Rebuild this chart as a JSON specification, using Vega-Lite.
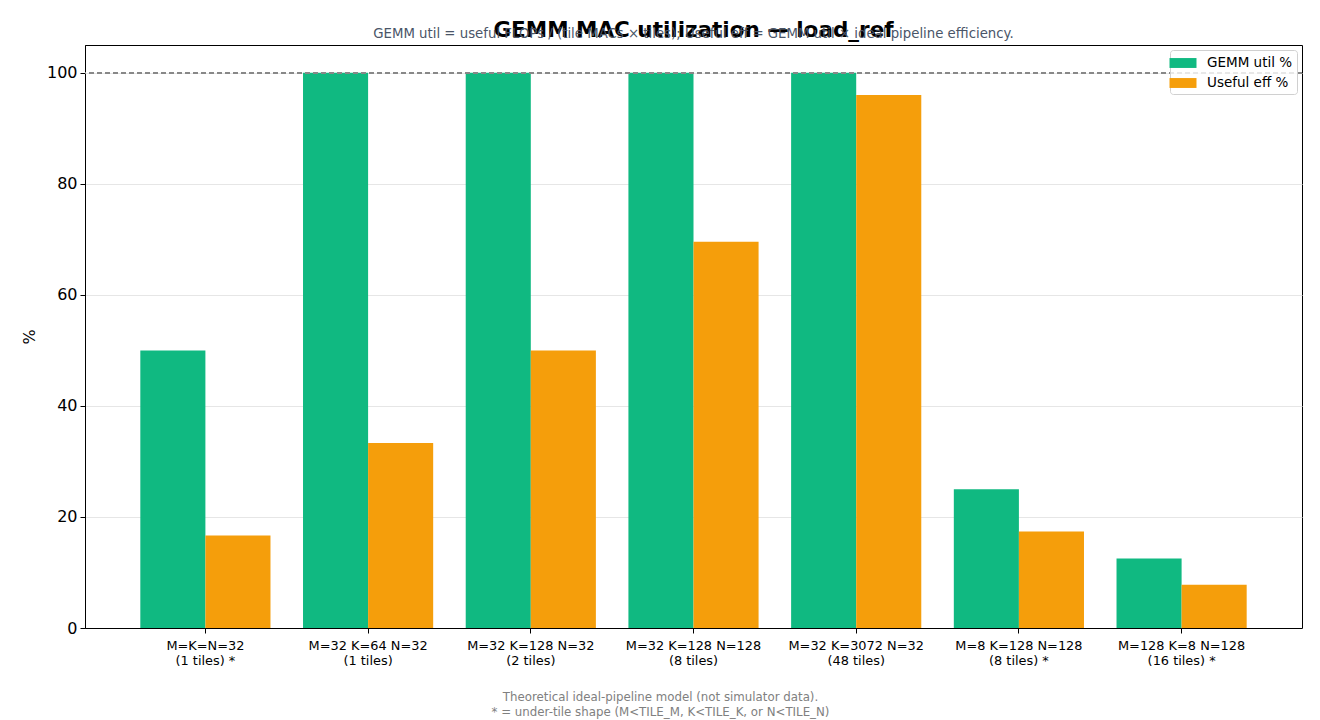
{
  "$schema": "https://vega.github.io/schema/vega-lite/v6.json",
  "autosize": {"type": "none"},
  "width": 1217,
  "height": 583,
  "padding": {"left": 85, "top": 45, "right": 18, "bottom": 92},
  "background": "white",
  "title": {
    "text": "GEMM MAC utilization — load_ref",
    "subtitle": "GEMM util = useful FLOPs / (tile MACs × tiles); Useful eff = GEMM util × ideal pipeline efficiency.",
    "font": "DejaVu Sans",
    "fontSize": 21.5,
    "fontWeight": "bold",
    "color": "#000000",
    "subtitleFont": "DejaVu Sans",
    "subtitleFontSize": 13.3,
    "subtitleColor": "#4a5568",
    "subtitlePadding": -14,
    "anchor": "middle",
    "offset": 4
  },
  "data": {
    "values": [
      {"shape": "M=K=N=32\n(1 tiles) *", "metric": "GEMM util %", "value": 50},
      {"shape": "M=K=N=32\n(1 tiles) *", "metric": "Useful eff %", "value": 16.67},
      {"shape": "M=32 K=64 N=32\n(1 tiles)", "metric": "GEMM util %", "value": 100},
      {"shape": "M=32 K=64 N=32\n(1 tiles)", "metric": "Useful eff %", "value": 33.33},
      {"shape": "M=32 K=128 N=32\n(2 tiles)", "metric": "GEMM util %", "value": 100},
      {"shape": "M=32 K=128 N=32\n(2 tiles)", "metric": "Useful eff %", "value": 50},
      {"shape": "M=32 K=128 N=128\n(8 tiles)", "metric": "GEMM util %", "value": 100},
      {"shape": "M=32 K=128 N=128\n(8 tiles)", "metric": "Useful eff %", "value": 69.57},
      {"shape": "M=32 K=3072 N=32\n(48 tiles)", "metric": "GEMM util %", "value": 100},
      {"shape": "M=32 K=3072 N=32\n(48 tiles)", "metric": "Useful eff %", "value": 96},
      {"shape": "M=8 K=128 N=128\n(8 tiles) *", "metric": "GEMM util %", "value": 25},
      {"shape": "M=8 K=128 N=128\n(8 tiles) *", "metric": "Useful eff %", "value": 17.39},
      {"shape": "M=128 K=8 N=128\n(16 tiles) *", "metric": "GEMM util %", "value": 12.5},
      {"shape": "M=128 K=8 N=128\n(16 tiles) *", "metric": "Useful eff %", "value": 7.8}
    ]
  },
  "layer": [
    {
      "mark": {"type": "bar"},
      "encoding": {
        "x": {
          "field": "shape",
          "type": "nominal",
          "sort": null,
          "scale": {"paddingInner": 0.2, "paddingOuter": 0.34},
          "axis": {
            "labelAngle": 0,
            "labelExpr": "split(datum.label, '\\n')",
            "labelFont": "DejaVu Sans",
            "labelFontSize": 12.9,
            "labelColor": "#000000",
            "labelPadding": 6,
            "labelLineHeight": 15,
            "tickSize": 5,
            "tickColor": "#000000",
            "domainColor": "#000000",
            "title": ["Theoretical ideal-pipeline model (not simulator data).", "* = under-tile shape (M<TILE_M, K<TILE_K, or N<TILE_N)"],
            "titleFont": "DejaVu Sans",
            "titleFontSize": 11.8,
            "titleFontWeight": "normal",
            "titleColor": "#808080",
            "titleLineHeight": 15,
            "titlePadding": 25,
            "titleX": 575
          }
        },
        "xOffset": {
          "field": "metric",
          "type": "nominal",
          "scale": {"paddingInner": 0, "paddingOuter": 0}
        },
        "y": {
          "field": "value",
          "type": "quantitative",
          "scale": {"domain": [0, 105], "nice": false},
          "axis": {
            "values": [0, 20, 40, 60, 80, 100],
            "labelFont": "DejaVu Sans",
            "labelFontSize": 16,
            "labelColor": "#000000",
            "labelPadding": 3,
            "tickSize": 5,
            "tickColor": "#000000",
            "domainColor": "#000000",
            "grid": true,
            "gridColor": "#e6e6e6",
            "title": "%",
            "titleFont": "DejaVu Sans",
            "titleFontSize": 16,
            "titleFontWeight": "normal",
            "titleColor": "#000000",
            "titlePadding": 9
          }
        },
        "color": {
          "field": "metric",
          "type": "nominal",
          "scale": {"domain": ["GEMM util %", "Useful eff %"], "range": ["#10b981", "#f59e0b"]},
          "legend": {
            "title": null,
            "orient": "top-right",
            "offset": 5,
            "padding": 4,
            "strokeColor": "#d0d0d0",
            "fillColor": "rgba(255,255,255,0.8)",
            "cornerRadius": 3,
            "symbolType": "M-1.5,-0.55H1.5V0.55H-1.5Z",
            "symbolSize": 324,
            "symbolStrokeWidth": 0,
            "labelFont": "DejaVu Sans",
            "labelFontSize": 13.5,
            "labelColor": "#000000",
            "labelOffset": 15,
            "rowPadding": 4
          }
        }
      }
    },
    {
      "mark": {"type": "rule", "color": "#888888", "strokeDash": [5, 3], "strokeWidth": 1.3},
      "encoding": {"y": {"datum": 100}}
    }
  ],
  "config": {
    "view": {"stroke": "#000000", "strokeWidth": 1},
    "font": "DejaVu Sans"
  }
}
